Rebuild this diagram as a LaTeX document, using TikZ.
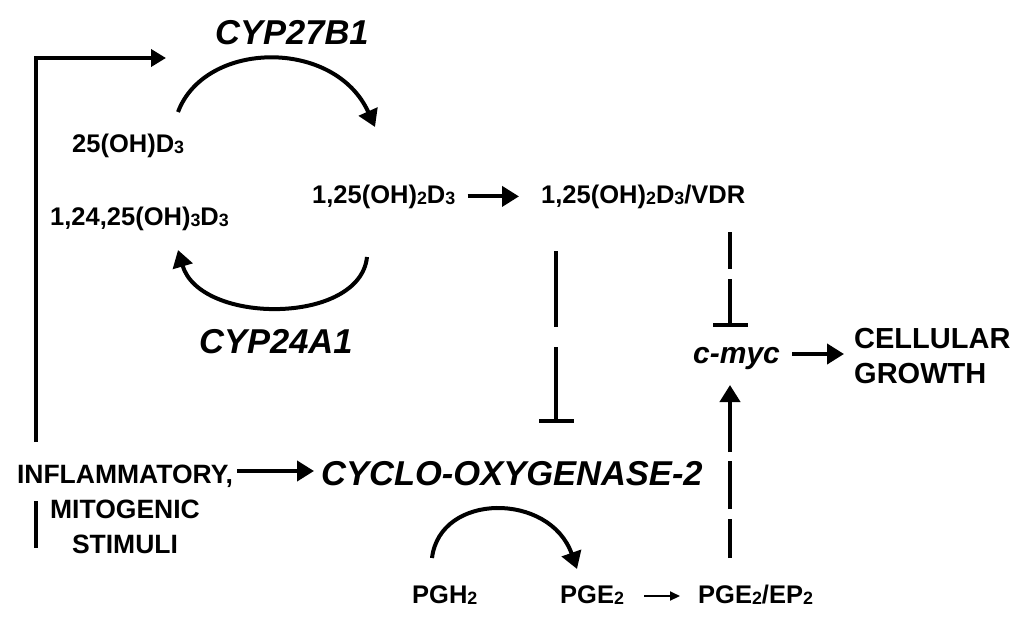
\documentclass[tikz,border=0pt]{standalone}
\usepackage{fontspec}
\setmainfont{Liberation Sans}
\usetikzlibrary{arrows.meta}
\newcommand\lo[1]{\raisebox{-0.04em}{\scalebox{0.7}{#1}}}
\begin{document}
\begin{tikzpicture}[x=1pt,y=-1pt,
  lbl/.style={inner sep=0pt,anchor=base west,font=\fontsize{25.5}{30}\selectfont\bfseries},
  big/.style={inner sep=0pt,anchor=base west,font=\fontsize{34.5}{40}\selectfont\bfseries\itshape},
  arr/.style={line width=4pt,-{Triangle[length=17pt,width=20pt]}},
  thinarr/.style={line width=2pt,-{Triangle[length=10pt,width=9pt]}},
  inh/.style={line width=4pt,-{Bar[width=35pt]}},
  plain/.style={line width=4pt}]
\useasboundingbox (0,0) rectangle (1024,621);
% nodes
\node[big] (cyp27) at (215,44) {CYP27B1};
\node[lbl] (d25) at (72,152) {25(OH)D\lo{3}};
\node[lbl] (d124) at (50,225) {1,24,25(OH)\lo{3}D\lo{3}};
\node[lbl] (d125) at (312,203) {1,25(OH)\lo{2}D\lo{3}};
\node[lbl] (vdr) at (541,203) {1,25(OH)\lo{2}D\lo{3}/VDR};
\node[big] (cyp24) at (199,353) {CYP24A1};
\node[inner sep=0pt,anchor=base west,font=\fontsize{30}{36}\selectfont\bfseries\itshape] (cmyc) at (693,363) {c-myc};
\node[inner sep=0pt,anchor=base west,align=left,font=\fontsize{29}{35}\selectfont\bfseries] (cell) at (854,383) {CELLULAR\\GROWTH};
\node[inner sep=0pt,anchor=north,align=center,font=\fontsize{26.5}{35}\selectfont\bfseries] (infl) at (125,465) {INFLAMMATORY,\\MITOGENIC\\STIMULI};
\node[big] (cox) at (321,485) {CYCLO-OXYGENASE-2};
\node[lbl] (pgh) at (412,603) {PGH\lo{2}};
\node[lbl] (pge) at (560,603) {PGE\lo{2}};
\node[lbl] (ep) at (698,603) {PGE\lo{2}/EP\lo{2}};
% coordinates for connector ends
\coordinate (bstart) at (36,442);
\coordinate (btip) at (166,58);
\coordinate (a1s) at (178,112);
\coordinate (a1e) at (375,127);
\coordinate (a2s) at (367,257);
\coordinate (a2e) at (178,250);
\coordinate (a3s) at (432,558);
\coordinate (a3e) at (577,569);
\coordinate (i1s) at (556,251);
\coordinate (i1e) at (556,423);
\coordinate (i2s) at (730,232);
\coordinate (i2e) at (730,327);
\coordinate (upS) at (730,558);
\coordinate (upE) at (730,385);
% connectors
\draw[arr,-{Triangle[length=15pt,width=17pt]}] (bstart) |- (btip);
\draw[plain] (36,501) -- (36,548);
\draw[arr] (a1s) .. controls (205,40) and (335,38) .. (a1e);
\draw[arr] (a2s) .. controls (360,325) and (200,325) .. (a2e);
\draw[arr] (a3s) .. controls (440,492) and (550,492) .. (a3e);
\draw[arr,shorten <=12pt,shorten >=22pt] (d125.east) -- (vdr.west);
\draw[arr,shorten <=12pt,shorten >=10pt] (cmyc.east |- 0,354) -- (cell.west |- 0,354);
\draw[arr,shorten <=4pt,shorten >=7pt] (infl.north east |- 0,471) -- (cox.west |- 0,471);
\draw[thinarr,shorten <=20pt,shorten >=18pt] (pge.east |- 0,596) -- (ep.west |- 0,596);
\draw[inh,dash pattern=on 76pt off 20pt] (i1s) -- (i1e);
\draw[inh,dash pattern=on 37pt off 10pt on 100pt off 1pt] (i2s) -- (i2e);
\draw[arr,dash pattern=on 39pt off 10pt on 48pt off 9pt on 200pt off 1pt] (upS) -- (upE);
\end{tikzpicture}
\end{document}
